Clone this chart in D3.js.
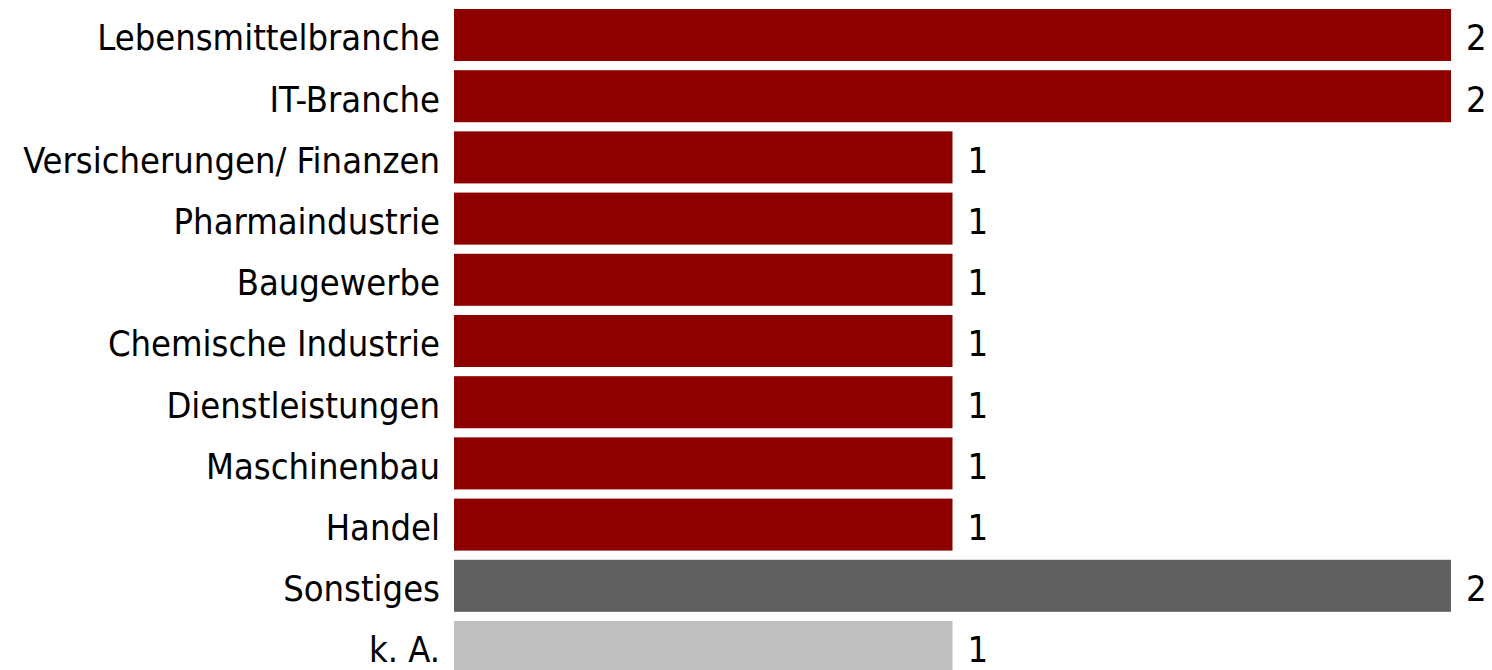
<!DOCTYPE html>
<html>
<head>
<meta charset="utf-8">
<script src="https://cdn.jsdelivr.net/npm/d3@7"></script>
<style>
  body { margin: 0; background: #fff; }
  svg text { font-family: "DejaVu Sans Condensed", "DejaVu Sans", Verdana, sans-serif; fill: #000; }
</style>
</head>
<body>
<div id="chart"></div>
<script>
// categories top to bottom, with counts and bar colours
const branchen = ["Lebensmittelbranche", "IT-Branche", "Versicherungen/ Finanzen", "Pharmaindustrie",
    "Baugewerbe", "Chemische Industrie", "Dienstleistungen", "Maschinenbau", "Handel", "Sonstiges", "k. A."];
const anzahl = [2, 2, 1, 1, 1, 1, 1, 1, 1, 2, 1];
const farben = ["#8e0000", "#8e0000", "#8e0000", "#8e0000", "#8e0000", "#8e0000",
    "#8e0000", "#8e0000", "#8e0000", "#606060", "#bfbfbf"];

const width = 1492, height = 670;

const svg = d3.select("#chart")
    .append("svg")
    .attr("width", width)
    .attr("height", height);

// x: 0 at 454, 2 at 1451
const x = d3.scaleLinear()
    .domain([0, 2])
    .range([454, 1451]);

// y bands: first bar top 9, step ~61.2
const y = d3.scaleBand()
    .domain(branchen)
    .range([4.4, 677.6])
    .paddingInner(0.15)
    .paddingOuter(0.075);

const rows = svg.append("g")
    .selectAll("g")
    .data(branchen)
    .join("g");

rows.append("rect")
    .attr("x", x(0))
    .attr("y", d => y(d))
    .attr("width", (d, i) => x(anzahl[i]) - x(0))
    .attr("height", y.bandwidth())
    .style("fill", (d, i) => farben[i]);

// category labels, right aligned left of the bars
rows.append("text")
    .attr("x", x(0) - 14)
    .attr("y", d => y(d) + y.bandwidth() / 2)
    .attr("dy", "0.43em")
    .attr("text-anchor", "end")
    .style("font-size", "36px")
    .text(d => d);

// value labels
rows.append("text")
    .attr("x", (d, i) => x(anzahl[i]) + 15)
    .attr("y", d => y(d) + y.bandwidth() / 2)
    .attr("dy", "0.43em")
    .style("font-size", "36px")
    .text((d, i) => anzahl[i]);
</script>
</body>
</html>
